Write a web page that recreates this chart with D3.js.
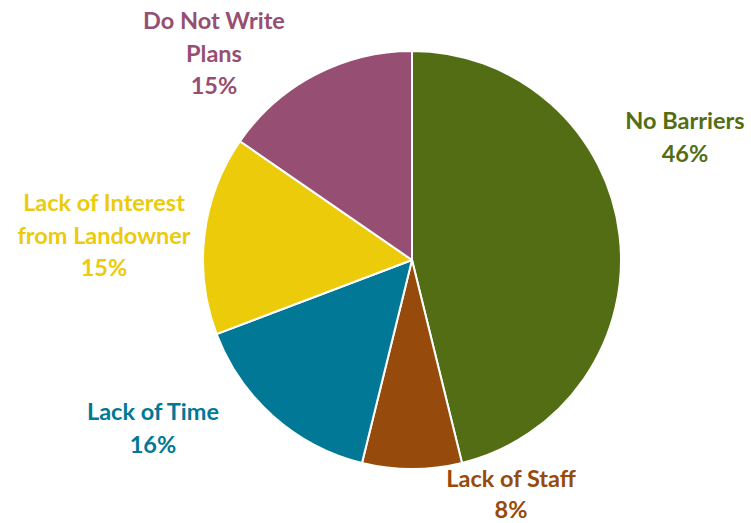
<!DOCTYPE html>
<html>
<head>
<meta charset="utf-8">
<script src="https://cdn.jsdelivr.net/npm/d3@7"></script>
<style>
  body { margin: 0; background: #fff; }
  svg text { font-family: Lato, "Open Sans", sans-serif; font-weight: bold; }
</style>
</head>
<body>
<svg id="chart" width="751" height="523"></svg>
<script>
// slice shares and the printed labels
const categories = ["No Barriers", "Lack of Staff", "Lack of Time", "Lack of Interest from Landowner", "Do Not Write Plans"];
const shares = [46.2, 7.7, 15.4, 15.4, 15.4];
const pctLabels = ["46%", "8%", "16%", "15%", "15%"];
const colors = ["#536d14", "#964b0c", "#007896", "#ebcb0a", "#964f73"];

// label lines as they wrap in the reference
const labelLines = [
  ["No Barriers"],
  ["Lack of Staff"],
  ["Lack of Time"],
  ["Lack of Interest", "from Landowner"],
  ["Do Not Write", "Plans"]
];

// label anchors (first baseline, relative to the pie centre)
const labelOffsets = [
  [273, -131],
  [99, 227],
  [-259, 160],
  [-308, -49],
  [-198, -231]
];

const cx = 412, cy = 260, radius = 209;
const lineH = 32.5;

const svg = d3.select("#chart");
const g = svg.append("g").attr("transform", `translate(${cx},${cy})`);

const pie = d3.pie().sort(null).value(d => d);
const arc = d3.arc().innerRadius(0).outerRadius(radius);

const arcs = pie(shares);

g.selectAll("path.slice")
  .data(arcs)
  .join("path")
  .attr("class", "slice")
  .attr("d", arc)
  .attr("fill", (d, i) => colors[i])
  .attr("stroke", "#fff")
  .attr("stroke-width", 2)
  .attr("stroke-linejoin", "round");

const labels = g.selectAll("text.lbl")
  .data(arcs)
  .join("text")
  .attr("class", "lbl")
  .attr("text-anchor", "middle")
  .attr("font-size", 23.5)
  .attr("fill", (d, i) => colors[i])
  .attr("x", (d, i) => labelOffsets[i][0])
  .attr("y", (d, i) => labelOffsets[i][1]);

labels.each(function(d, i) {
  const t = d3.select(this);
  const lines = labelLines[i].concat([pctLabels[i]]);
  lines.forEach((s, k) => {
    t.append("tspan")
      .attr("x", labelOffsets[i][0])
      .attr("dy", k === 0 ? 0 : (i === 1 ? 30.5 : lineH))
      .text(s);
  });
});
</script>
</body>
</html>
